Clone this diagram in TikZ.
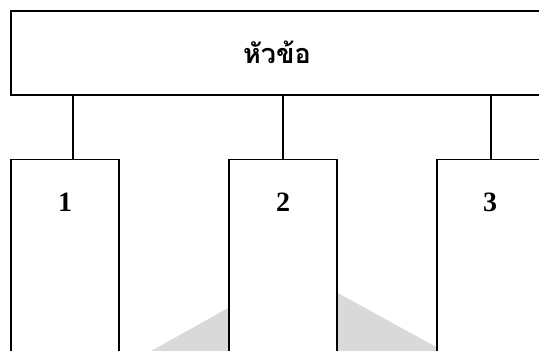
\documentclass[tikz,border=0pt]{standalone}
\usepackage{fontspec}
\setmainfont{Liberation Serif}
\newfontfamily\thaifont[Script=Thai]{Loma}
\begin{document}
\begin{tikzpicture}[x=1pt,y=-1pt,
  frame/.style={draw=black,line width=1.3pt,fill=white,inner sep=0pt},
  link/.style={draw=black,line width=1.3pt},
  numlabel/.style={font=\fontsize{28}{32}\selectfont\bfseries,inner sep=0pt},
  headlabel/.style={font=\thaifont\fontsize{27}{32}\selectfont\bfseries,inner sep=0pt}]
  \useasboundingbox (0,0) rectangle (539,351);
  \clip (0,0) rectangle (539,351);
  % faint grey mark behind the columns
  \fill[gray!30] (60,402) -- (296,270) -- (560,415) -- cycle;
  % heading box
  \node[frame,minimum width=532pt,minimum height=84pt] (head) at (277,53) {};
  \node[headlabel] (headtxt) at (277,52) {หัวข้อ};
  % three columns
  \node[frame,anchor=north,minimum width=108pt,minimum height=240pt] (c1) at (65,159) {};
  \node[frame,anchor=north,minimum width=108pt,minimum height=240pt] (c2) at (283,159) {};
  \node[frame,anchor=north,minimum width=106pt,minimum height=240pt] (c3) at (490,159) {};
  \node[numlabel] (n1) at (65,202) {1};
  \node[numlabel] (n2) at (283,202) {2};
  \node[numlabel] (n3) at (490,202) {3};
  % connector feet on the column tops
  \coordinate (f1) at (73,159);
  \coordinate (f2) at (283,159);
  \coordinate (f3) at (491,159);
  % connectors from heading to columns
  \draw[link] (head.south -| f1) -- (f1);
  \draw[link] (head.south -| f2) -- (f2);
  \draw[link] (head.south -| f3) -- (f3);
\end{tikzpicture}
\end{document}
